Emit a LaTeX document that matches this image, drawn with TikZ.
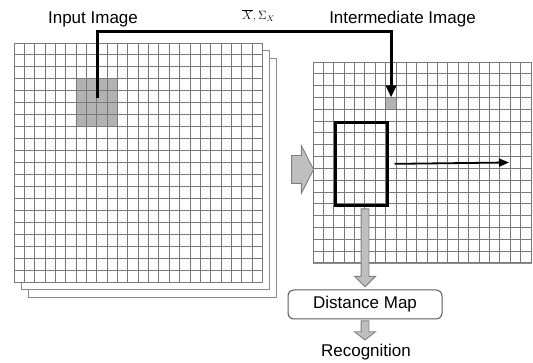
\documentclass[tikz,border=0pt]{standalone}
\usepackage{fontspec}
\setmainfont{Liberation Sans}
\usetikzlibrary{arrows.meta,shapes.arrows}

\begin{document}
\begin{tikzpicture}[
        x=1pt, y=-1pt, % координаты в пикселях, ось y вниз
        lbl/.style = {font=\fontsize{17}{20}\selectfont, inner sep=0pt},
        mlbl/.style = {font=\fontsize{12}{14}\selectfont, inner sep=0pt},
        sheet/.style = {draw=gray!90, fill=white, line width=0.9pt, inner sep=0pt, anchor=north west},
        gline/.style = {draw=gray!95!black, line width=0.9pt},
        shade/.style = {fill=gray!60, inner sep=0pt, anchor=north west},
        win/.style = {draw=black, line width=2.8pt, inner sep=0pt, anchor=north west},
        link/.style = {draw=black, line width=3pt, -{Triangle[length=12pt,width=10pt]}},
        scan/.style = {draw=black, line width=1.8pt, -{Triangle[length=10pt,width=8pt]}},
        garrow/.style = {single arrow, draw=gray, fill=gray!50, line width=0.9pt, inner xsep=0pt}, % серые стрелки
        box/.style = {draw=gray!70!black, rounded corners=6pt, line width=1pt, minimum width=154pt, minimum height=29pt, font=\fontsize{17}{20}\selectfont},
    ]
    \useasboundingbox (0,0) rectangle (533,363);

    % входное изображение (стопка листов)
    \node[sheet, minimum width=248, minimum height=239] (back2) at (28,58) {};
    \node[sheet, minimum width=248, minimum height=239] (back1) at (21,50) {};
    \node[sheet, minimum width=248, minimum height=239] (inp) at (14,43) {};
    \node[shade, minimum width=41.4, minimum height=47.8] (blk) at (76.1,78.85) {};
    \foreach \i in {0,...,24} \draw[gline] (14+\i*10.35,43) -- (14+\i*10.35,282);
    \foreach \j in {0,...,20} \draw[gline] (14,43+\j*11.95) -- (262,43+\j*11.95);

    % промежуточное изображение
    \node[sheet, minimum width=218, minimum height=201] (mid) at (313,62) {};
    \node[shade, minimum width=10.38, minimum height=11.82] (cel) at (385.7,97.5) {};
    \foreach \i in {0,...,21} \draw[gline] (313+\i*10.38,62) -- (313+\i*10.38,263);
    \foreach \j in {0,...,17} \draw[gline] (313,62+\j*11.82) -- (531,62+\j*11.82);
    \node[win, minimum width=51.9, minimum height=82.7] (win) at (333.8,121.1) {};

    % подписи
    \node[lbl, anchor=base] (tin) at (93,23.3) {Input Image};
    \node[lbl, anchor=base] (tmid) at (402.5,23.3) {Intermediate Image};
    \node[mlbl] (tpar) at (258.5,16) {$\overline{X},\Sigma_X$};

    % связи
    \coordinate (bend) at (255,32);
    \coordinate (scanend) at (509,162.5);
    \draw[link] ([yshift=5pt]blk.center) |- (bend) -| (cel.north);
    \draw[scan] ([xshift=6pt]win.east) -- (scanend);
    \node[garrow, minimum height=22, inner ysep=13.5pt, single arrow head extend=10pt, single arrow tip angle=126] (tr) at (299,169.5) {};

    \node[box] (dmap) at (365,304.5) {Distance Map};
    \node[lbl, anchor=base] (rec) at (366,357) {Recognition};
    \node[garrow, rotate=-90, minimum height=78, inner ysep=3.5pt, single arrow head extend=6.5pt, single arrow tip angle=90, anchor=tip] (ar1) at ([yshift=2pt]dmap.north) {};
    \node[garrow, rotate=-90, minimum height=19, inner ysep=3.5pt, single arrow head extend=6.5pt, single arrow tip angle=104, anchor=tail] (ar2) at ([yshift=-1pt]dmap.south) {};
\end{tikzpicture}
\end{document}
